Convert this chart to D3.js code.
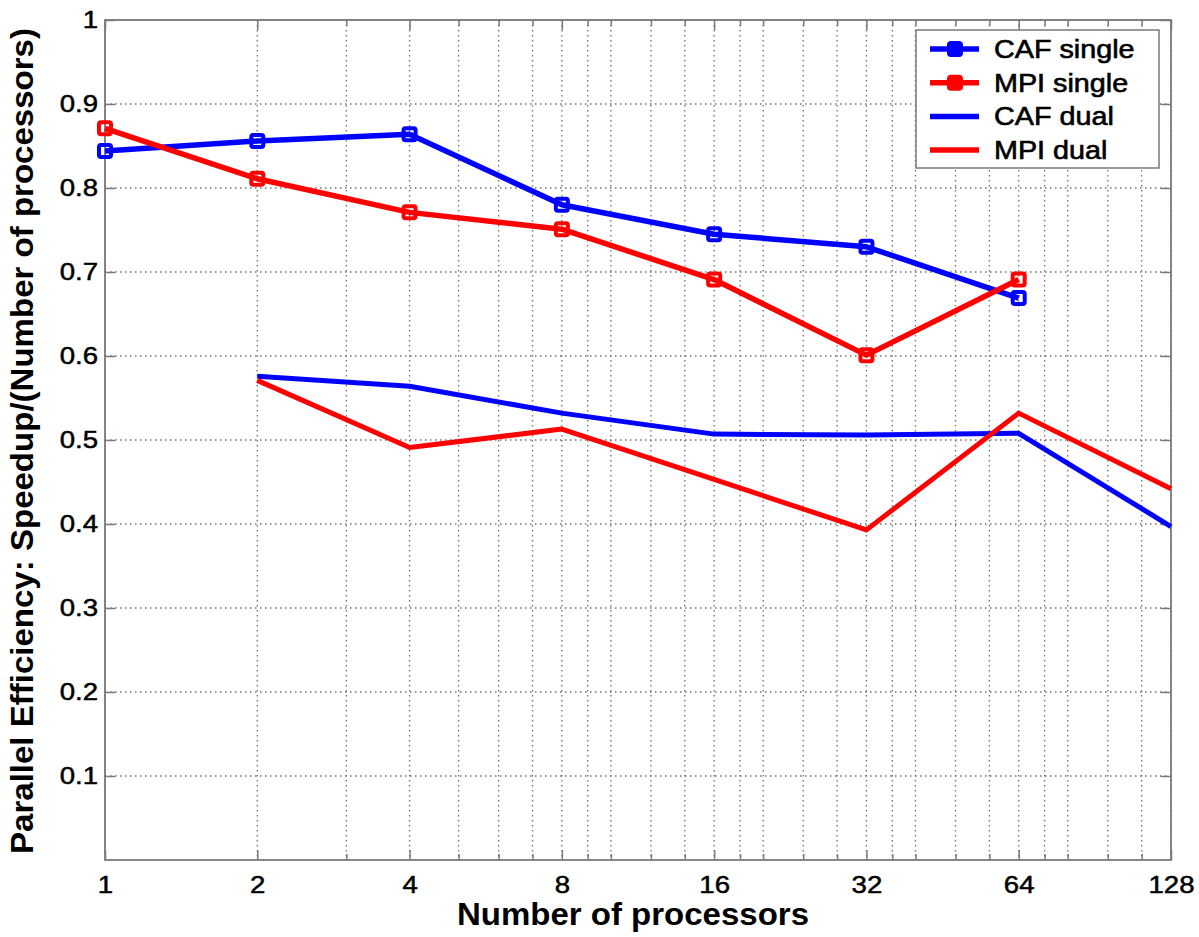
<!DOCTYPE html>
<html>
<head>
<meta charset="utf-8">
<script src="https://cdn.jsdelivr.net/npm/d3@7"></script>
<style>
  body { margin: 0; background: #fff; }
  text { font-family: "Liberation Sans", Arial, sans-serif; }
</style>
</head>
<body>
<div id="chart-area"></div>
<script>
const WIDTH = 1199;
const HEIGHT = 937;

// data
const procs = [1, 2, 4, 8, 16, 32, 64, 128];
const cafSingle = [0.844, 0.856, 0.864, 0.780, 0.745, 0.730, 0.669, null];
const mpiSingle = [0.871, 0.811, 0.771, 0.751, 0.691, 0.601, 0.691, null];
const cafDual = [null, 0.576, 0.564, 0.532, 0.507, 0.506, 0.508, 0.397];
const mpiDual = [null, 0.571, 0.491, 0.513, 0.453, 0.393, 0.532, 0.442];

const xTicks = [1, 2, 4, 8, 16, 32, 64, 128];
const xMinor = [3, 5, 6, 7, 9, 10, 12, 14, 18, 20, 24, 28, 36, 40, 48, 56, 72, 80, 96, 112];
const yTicks = [0.1, 0.2, 0.3, 0.4, 0.5, 0.6, 0.7, 0.8, 0.9, 1];

const series = [
  {name: "CAF single", values: cafSingle, color: "#0000ff", marker: true},
  {name: "MPI single", values: mpiSingle, color: "#ff0000", marker: true},
  {name: "CAF dual", values: cafDual, color: "#0000ff", marker: false},
  {name: "MPI dual", values: mpiDual, color: "#ff0000", marker: false}
];

const svg = d3.select("#chart-area").append("svg")
  .attr("width", WIDTH)
  .attr("height", HEIGHT)
  .style("display", "block");

svg.append("rect").attr("width", WIDTH).attr("height", HEIGHT).attr("fill", "#fff");

const margin = {top: 20, right: 28, bottom: 77, left: 105};
const graphWidth = WIDTH - margin.left - margin.right;
const graphHeight = HEIGHT - margin.top - margin.bottom;

const graph = svg.append("g")
  .attr("transform", `translate(${margin.left}, ${margin.top})`);

// scales
const x = d3.scaleLog().base(2).domain([1, 128]).range([0, graphWidth]);
const y = d3.scaleLinear().domain([0, 1]).range([graphHeight, 0]);

// grid
const grid = graph.append("g")
  .attr("stroke", "#707070")
  .attr("stroke-width", 1.3)
  .attr("stroke-dasharray", "1.5,3.5");

grid.selectAll(".vgrid").data(xTicks.concat(xMinor)).enter().append("line")
  .attr("x1", d => x(d)).attr("x2", d => x(d))
  .attr("y1", 0).attr("y2", graphHeight);

grid.selectAll(".hgrid").data(yTicks).enter().append("line")
  .attr("x1", 0).attr("x2", graphWidth)
  .attr("y1", d => y(d)).attr("y2", d => y(d));

// axes
const axisColor = "#7a7a7a";
const styleAxis = g => {
  g.select(".domain").remove();
  g.selectAll(".tick line").attr("stroke", axisColor).attr("stroke-width", 1.5);
  g.selectAll(".tick text")
    .attr("fill", "#000")
    .attr("stroke", "#000")
    .attr("stroke-width", 0.5)
    .attr("font-size", "24px")
    .attr("font-family", "'Liberation Sans', Arial, sans-serif");
};

const xAxis = d3.axisBottom(x).tickValues(xTicks).tickFormat(d3.format("d"))
  .tickSizeInner(-10).tickSizeOuter(0).tickPadding(16);
const xAxisGroup = graph.append("g")
  .attr("transform", `translate(0, ${graphHeight})`)
  .call(xAxis)
  .call(styleAxis);
xAxisGroup.selectAll(".tick text").attr("transform", "scale(1.15,1)");

graph.append("g")
  .attr("transform", `translate(0, ${graphHeight})`)
  .call(d3.axisBottom(x).tickValues(xMinor).tickFormat("").tickSizeInner(-6).tickSizeOuter(0))
  .call(styleAxis);

graph.append("g")
  .call(d3.axisTop(x).tickValues(xTicks).tickFormat("").tickSizeInner(-10).tickSizeOuter(0))
  .call(styleAxis);
graph.append("g")
  .call(d3.axisTop(x).tickValues(xMinor).tickFormat("").tickSizeInner(-6).tickSizeOuter(0))
  .call(styleAxis);

const yAxis = d3.axisLeft(y).tickValues(yTicks).tickFormat(d3.format("~g"))
  .tickSizeInner(-10).tickSizeOuter(0).tickPadding(7);
const yAxisGroup = graph.append("g").call(yAxis).call(styleAxis);
yAxisGroup.selectAll(".tick text").attr("transform", "scale(1.15,1)").attr("x", -7 / 1.15);

graph.append("g")
  .attr("transform", `translate(${graphWidth}, 0)`)
  .call(d3.axisRight(y).tickValues(yTicks).tickFormat("").tickSizeInner(-10).tickSizeOuter(0))
  .call(styleAxis);

// box
graph.append("rect")
  .attr("width", graphWidth).attr("height", graphHeight)
  .attr("fill", "none").attr("stroke", axisColor).attr("stroke-width", 1.8);

// lines
const line = d3.line()
  .defined(d => d.v !== null)
  .x(d => x(d.p))
  .y(d => y(d.v));

series.forEach(s => {
  const pts = procs.map((p, i) => ({p: p, v: s.values[i]}));
  graph.append("path")
    .datum(pts)
    .attr("fill", "none")
    .attr("stroke", s.color)
    .attr("stroke-width", s.marker ? 5.5 : 5)
    .attr("stroke-linejoin", "round")
    .attr("d", line);
  if (s.marker) {
    graph.selectAll(null).data(pts.filter(d => d.v !== null)).enter().append("rect")
      .attr("x", d => x(d.p) - 6)
      .attr("y", d => y(d.v) - 6)
      .attr("width", 12).attr("height", 12)
      .attr("rx", 2)
      .attr("fill", "none")
      .attr("stroke", s.color)
      .attr("stroke-width", 4);
  }
});

// axis labels
graph.append("text")
  .attr("x", graphWidth / 2 - 5)
  .attr("y", graphHeight + 65)
  .attr("text-anchor", "middle")
  .attr("font-size", "31px")
  .attr("font-weight", "bold")
  .attr("textLength", 352)
  .attr("lengthAdjust", "spacingAndGlyphs")
  .text("Number of processors");

svg.append("text")
  .attr("transform", "translate(33, 441) rotate(-90)")
  .attr("text-anchor", "middle")
  .attr("font-size", "31px")
  .attr("font-weight", "bold")
  .attr("textLength", 826)
  .attr("lengthAdjust", "spacingAndGlyphs")
  .text("Parallel Efficiency: Speedup/(Number of processors)");

// legend
const legend = svg.append("g").attr("transform", "translate(916, 30)");
legend.append("rect")
  .attr("width", 243).attr("height", 138)
  .attr("fill", "#fff").attr("stroke", axisColor).attr("stroke-width", 1.5);

const items = legend.selectAll(".item").data(series).enter().append("g")
  .attr("transform", (d, i) => `translate(0, ${19 + i * 33.7})`);

items.append("line")
  .attr("x1", 14).attr("x2", 63)
  .attr("stroke", d => d.color).attr("stroke-width", 5.5);

items.filter(d => d.marker).append("rect")
  .attr("x", 33).attr("y", -6).attr("width", 12).attr("height", 12).attr("rx", 2)
  .attr("fill", d => d.color).attr("stroke", d => d.color).attr("stroke-width", 4);

items.append("text")
  .attr("transform", "translate(78, 9) scale(1.15,1)")
  .attr("font-size", "25px")
  .attr("fill", "#000")
  .attr("stroke", "#000")
  .attr("stroke-width", 0.6)
  .text(d => d.name);
</script>
</body>
</html>
